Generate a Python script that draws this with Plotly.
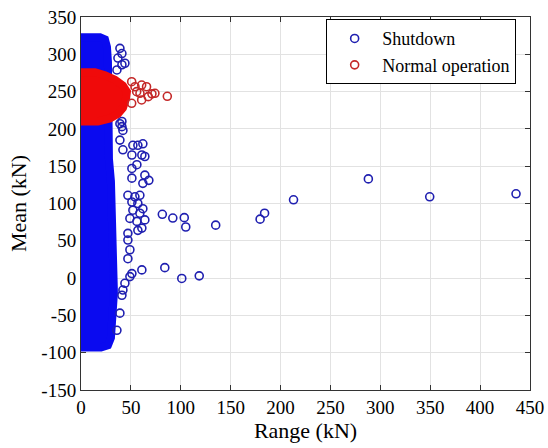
import plotly.graph_objects as go

# ---- Shutdown cases: mean vs. range of the line tension (kN) ----
# Solid core of the shutdown cloud (outline, in data units)
shut_core_range = [0, 19, 24, 26, 27, 27, 28, 28, 30, 31, 32, 33, 34, 33, 32, 31, 30, 27, 20, 0]
shut_core_mean = [323, 323, 320, 310, 290, 250, 200, 160, 130, 100, 60, 20, 0, -20, -40, -60, -80, -90, -93, -93]

# Individual shutdown cases outside the core
shut_range = [39, 41, 37, 44, 41, 36,
              39, 41, 42, 41,
              52, 57, 62, 39, 42, 51, 61, 64,
              51, 56, 51, 64, 62, 68,
              47, 54, 59, 51, 57, 62, 52, 59, 64, 56, 49, 61, 57, 47,
              47, 49, 47, 61, 51, 49, 44,
              42, 41, 39, 36,
              81.5, 92, 103.5, 105, 135, 179.5, 184, 213,
              84, 101, 118.5, 288, 349.5, 436]
shut_mean = [308, 301, 295, 288, 286, 279,
             207, 203, 198, 210,
             178, 178, 180, 185, 172, 165, 165, 163,
             147, 152, 134, 138, 127, 131,
             111, 109, 111, 102, 100, 93, 91, 87, 78, 76, 80, 67, 64, 60,
             51, 38, 26, 11, 6, 2, -7,
             -16, -23, -47, -70,
             85.5, 80.5, 81, 68.5, 71, 79, 87, 105,
             14, -0.5, 3, 133, 109, 113]

# ---- Normal operation cases ----
norm_core_range = [0, 14, 24, 34, 42, 46, 45, 42, 37, 29, 17, 0]
norm_core_mean = [276, 276, 272, 266, 258, 250, 240, 228, 220, 214, 210, 210]

norm_range = [50.8, 54.1, 55.8, 60.8, 65.7, 67.4, 74.1, 59.1, 60.8, 50.8, 71.1, 86.5]
norm_mean = [263.3, 256.6, 249.9, 258.8, 256.6, 243.2, 247.7, 247.7, 238.8, 234.3, 247.0, 243.7]

# ---- Axis ticks ----
x_ticks = [0, 50, 100, 150, 200, 250, 300, 350, 400, 450]
x_tick_text = ["0", "50", "100", "150", "200", "250", "300", "350", "400", "450"]
y_ticks = [-150, -100, -50, 0, 50, 100, 150, 200, 250, 300, 350]
y_tick_text = ["-150", "-100", "-50", "0", "50", "100", "150", "200", "250", "300", "350"]

BLUE_CORE = "#0a0af0"
BLUE_PT = "#1f1fb0"
RED_CORE = "#f00a0a"
RED_PT = "#c42828"
FONT = "Liberation Serif"

fig = go.Figure()


def core_trace(xs, ys, color):
    return go.Scatter(
        x=xs, y=ys, mode="lines", fill="toself", fillcolor=color,
        line=dict(color=color, width=8), hoverinfo="skip", showlegend=False,
    )


def point_trace(xs, ys, color, name):
    return go.Scatter(
        x=xs, y=ys, mode="markers", name=name, cliponaxis=False,
        marker=dict(symbol="circle-open", size=8, color=color,
                    line=dict(color=color, width=1.6)),
    )


fig.add_trace(core_trace(shut_core_range, shut_core_mean, BLUE_CORE))
fig.add_trace(point_trace(shut_range, shut_mean, BLUE_PT, "Shutdown"))
fig.add_trace(core_trace(norm_core_range, norm_core_mean, RED_CORE))
fig.add_trace(point_trace(norm_range, norm_mean, RED_PT, "Normal operation"))

axis_common = dict(
    showgrid=True, gridcolor="#e2e2e2", gridwidth=1,
    showline=True, linecolor="#333333", linewidth=1, mirror="ticks",
    ticks="inside", ticklen=5, tickcolor="#333333",
    zeroline=False, tickfont=dict(family=FONT, size=19, color="black"),
    layer="below traces",
)

fig.update_xaxes(range=[0, 450], tickvals=x_ticks, ticktext=x_tick_text,
                 title=dict(text="Range (kN)", font=dict(family=FONT, size=22, color="black"), standoff=5),
                 **axis_common)
fig.update_yaxes(range=[-150, 350], tickvals=y_ticks, ticktext=y_tick_text,
                 title=dict(text="Mean (kN)", font=dict(family=FONT, size=22, color="black"), standoff=8),
                 **axis_common)

fig.update_layout(
    width=548, height=448,
    margin=dict(l=81, r=18, t=17, b=58, autoexpand=False),
    paper_bgcolor="white", plot_bgcolor="white",
    font=dict(family=FONT, size=19, color="black"),
    legend=dict(x=0.546, y=0.994, xanchor="left", yanchor="top",
                bordercolor="black", borderwidth=1, bgcolor="white",
                font=dict(family=FONT, size=18, color="black"),
                itemwidth=45, tracegroupgap=0),
)

fig.write_html("out.html")
